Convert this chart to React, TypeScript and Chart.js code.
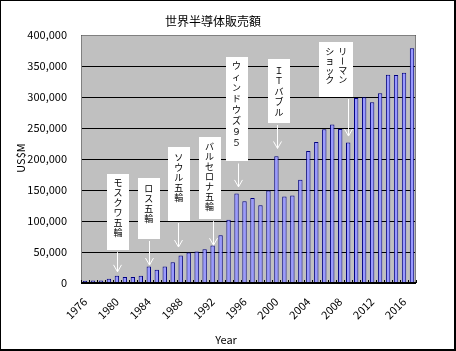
import React, { useEffect, useRef } from "react";
import { Chart, registerables } from "chart.js";

Chart.register(...registerables);

// ---- data ----
const years = [
  "1976", "1977", "1978", "1979", "1980", "1981", "1982", "1983", "1984", "1985",
  "1986", "1987", "1988", "1989", "1990", "1991", "1992", "1993", "1994", "1995",
  "1996", "1997", "1998", "1999", "2000", "2001", "2002", "2003", "2004", "2005",
  "2006", "2007", "2008", "2009", "2010", "2011", "2012", "2013", "2014", "2015",
  "2016", "2017",
];
const sales = [
  3500, 4000, 4200, 7000, 11500, 9500, 9800, 11800, 26500, 21500,
  26500, 33500, 44500, 49000, 51000, 54500, 60500, 77000, 102000, 144500,
  132000, 137000, 125500, 149000, 204500, 139500, 141000, 166500, 213000, 227500,
  248000, 255500, 248500, 226500, 298500, 299500, 291500, 306000, 336000, 335500,
  339000, 378500,
];
const shownYears = ["1976", "1980", "1984", "1988", "1992", "1996", "2000", "2004", "2008", "2012", "2016"];
const yMin = 0;
const yMax = 400000;
const yStep = 50000;

const chartTitle = "世界半導体販売額";
const xTitle = "Year";
const yTitle = "US$M";

// event call-outs (values in axis units)
const eventYears = ["1980", "1984", "1988", "1992", "1995", "2000", "2009"];
const eventLabels = [
  ["モスクワ五輪"],
  ["ロス五輪"],
  ["ソウル五輪"],
  ["バルセロナ五輪"],
  ["ウィンドウズ９５"],
  ["ＩＴバブル"],
  ["リーマン", "ショック"],
];
const eventBoxTop = [176000, 170000, 219000, 236000, 364000, 362000, 388000];
const eventBoxBottom = [53000, 71000, 100000, 103000, 196000, 258000, 300000];
const eventArrowTip = [18000, 29000, 58000, 61000, 155000, 217000, 237000];

// call-out styling (pixels)
const eventBoxDx = [1, 0, -2, -3, 0, 2.5, -12];
const eventArrowDx = [0.5, 0, -3, 0, 1.5, 1, 0];
const eventTextStart = [9, 11, 10, 10, 8, 12, 9];
const eventTextStep = [10, 10, 10, 10, 11, 10.5, 9.5];

const FONT = '"Noto Sans CJK JP", "DejaVu Sans", sans-serif';

const decor = {
  id: "decor",
  beforeDraw(chart: any) {
    const { ctx, chartArea: a, width, height } = chart;
    ctx.save();
    ctx.fillStyle = "#ffffff";
    ctx.fillRect(0, 0, width, height);
    ctx.fillStyle = "#c0c0c0";
    ctx.fillRect(a.left, a.top, a.right - a.left, a.bottom - a.top);
    ctx.restore();
  },
  afterDraw(chart: any) {
    const { ctx, chartArea: a, width, height, scales } = chart;
    const xs = scales.x;
    const ys = scales.y;
    ctx.save();

    // plot border
    ctx.strokeStyle = "#808080";
    ctx.lineWidth = 1;
    ctx.beginPath();
    ctx.moveTo(a.left + 0.5, a.bottom);
    ctx.lineTo(a.left + 0.5, a.top + 0.5);
    ctx.lineTo(a.right - 0.5, a.top + 0.5);
    ctx.lineTo(a.right - 0.5, a.bottom);
    ctx.stroke();

    // x axis line + category tick marks
    ctx.strokeStyle = "#000000";
    ctx.beginPath();
    ctx.moveTo(a.left, a.bottom - 0.5);
    ctx.lineTo(a.right, a.bottom - 0.5);
    const n = years.length;
    const cw = (a.right - a.left) / n;
    for (let i = 0; i <= n; i++) {
      const px = Math.round(a.left + i * cw) + 0.5;
      ctx.moveTo(px, a.bottom);
      ctx.lineTo(px, a.bottom - 3);
    }
    ctx.stroke();

    // call-outs
    ctx.font = `9px ${FONT}`;
    ctx.textAlign = "center";
    ctx.textBaseline = "middle";
    eventYears.forEach((yr, i) => {
      const idx = years.indexOf(yr);
      const cx = xs.getPixelForValue(idx);
      const cols = eventLabels[i].length;
      const bw = 22 + (cols - 1) * 12;
      const bcx = cx + eventBoxDx[i];
      const top = ys.getPixelForValue(eventBoxTop[i]);
      const bot = ys.getPixelForValue(eventBoxBottom[i]);
      ctx.fillStyle = "#ffffff";
      ctx.fillRect(Math.round(bcx - bw / 2), Math.round(top), bw, Math.round(bot - top));

      ctx.fillStyle = "#000000";
      eventLabels[i].forEach((s, c) => {
        const colX = bcx + ((cols - 1) / 2 - c) * 13;
        Array.from(s).forEach((ch, k) => {
          const cy = top + eventTextStart[i] + k * eventTextStep[i];
          if (ch === "ー") {
            ctx.save();
            ctx.translate(colX, cy);
            ctx.rotate(Math.PI / 2);
            ctx.fillText(ch, 0, 0);
            ctx.restore();
          } else {
            ctx.fillText(ch, colX, cy);
          }
        });
      });

      // arrow
      const ax = Math.round(cx + eventArrowDx[i]) + 0.5;
      const tip = ys.getPixelForValue(eventArrowTip[i]);
      ctx.strokeStyle = "#ffffff";
      ctx.lineWidth = 1;
      ctx.beginPath();
      ctx.moveTo(ax, bot + 2);
      ctx.lineTo(ax, tip);
      ctx.moveTo(ax - 4, tip - 7);
      ctx.lineTo(ax, tip);
      ctx.lineTo(ax + 4, tip - 7);
      ctx.stroke();
    });

    // titles
    ctx.fillStyle = "#000000";
    ctx.textAlign = "center";
    ctx.textBaseline = "middle";
    ctx.font = `12px ${FONT}`;
    ctx.fillText(chartTitle, 213, 21);
    ctx.font = `11px ${FONT}`;
    ctx.fillText(xTitle, 226, 340);
    ctx.save();
    ctx.translate(21, 158);
    ctx.rotate(-Math.PI / 2);
    ctx.fillText(yTitle, 0, 0);
    ctx.restore();

    // outer frame
    ctx.fillStyle = "#000000";
    ctx.fillRect(0, 0, width, 1);
    ctx.fillRect(0, 0, 1, height);
    ctx.fillRect(width - 2, 0, 2, height);
    ctx.fillRect(0, height - 2, width, 2);
    ctx.restore();
  },
};

export default function App() {
  const ref = useRef<HTMLCanvasElement | null>(null);

  useEffect(() => {
    document.body.style.margin = "0";
    const canvas = ref.current;
    if (!canvas) return;
    const chart = new Chart(canvas, {
      type: "bar",
      data: {
        labels: years,
        datasets: [
          {
            label: "販売額",
            data: sales,
            backgroundColor: "#9999ff",
            borderColor: "#000080",
            borderWidth: 1,
            barPercentage: 0.55,
            categoryPercentage: 1,
          },
        ],
      },
      options: {
        responsive: false,
        animation: false,
        devicePixelRatio: 1,
        layout: { padding: { left: 0, right: 40, top: 35, bottom: 0 } },
        plugins: {
          legend: { display: false },
          title: { display: false },
          tooltip: { enabled: false },
        },
        scales: {
          x: {
            grid: { display: false },
            border: { display: false },
            ticks: {
              autoSkip: false,
              minRotation: 45,
              maxRotation: 45,
              padding: 4,
              color: "#000000",
              font: { family: FONT, size: 11 },
              callback: (_v: any, i: number) => (shownYears.includes(years[i]) ? years[i] : ""),
            },
            afterFit: (s: any) => {
              s.height = 68;
            },
          },
          y: {
            min: yMin,
            max: yMax,
            grid: { color: "#000000", lineWidth: 1, drawTicks: false },
            border: { display: false },
            ticks: {
              stepSize: yStep,
              padding: 14,
              color: "#000000",
              font: { family: FONT, size: 11 },
              callback: (v: any) => Number(v).toLocaleString("en-US"),
            },
            afterFit: (s: any) => {
              s.width = 81;
            },
          },
        },
      },
      plugins: [decor],
    });
    return () => chart.destroy();
  }, []);

  return (
    <div style={{ width: 456, height: 351 }}>
      <canvas ref={ref} width={456} height={351} style={{ display: "block" }} />
    </div>
  );
}
